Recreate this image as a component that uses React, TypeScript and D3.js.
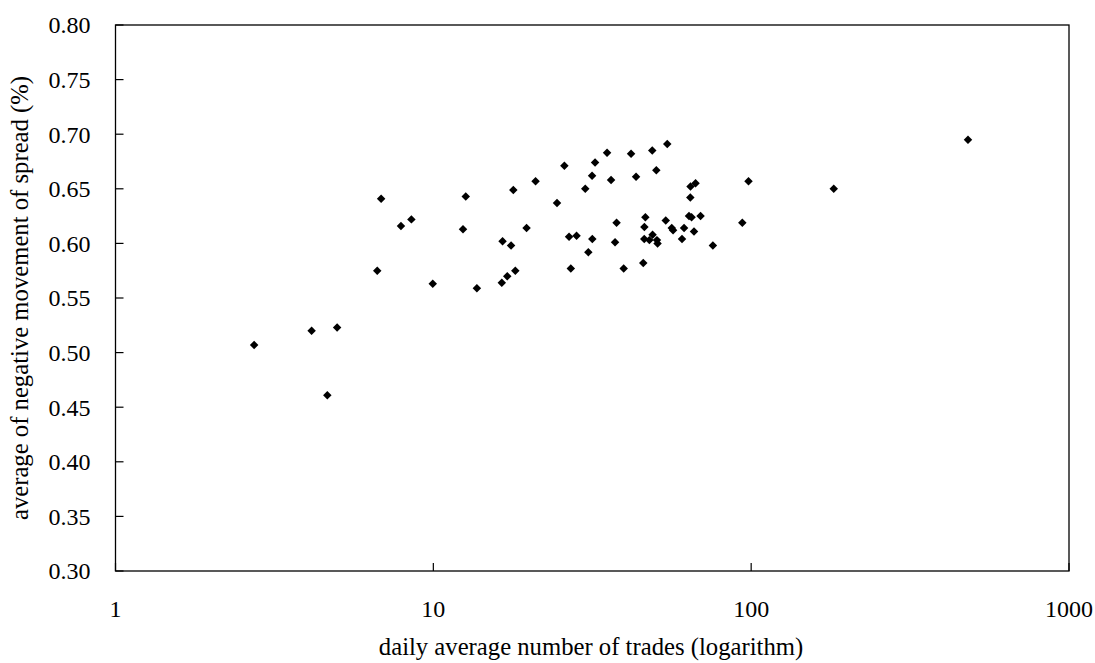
import React from "react";
import * as d3 from "d3";

const tradesX: number[] = [
  2.73, 4.14, 4.98, 4.64, 6.66, 6.85, 7.91, 8.53, 9.96, 12.4,
  12.65, 13.71, 16.42, 17.08, 18.11, 16.51, 17.56, 17.85, 19.65, 20.97,
  24.5, 25.84, 26.73, 28.22, 27.08, 30.06, 30.74, 31.64, 31.58, 32.28,
  35.2, 36.24, 37.3, 37.71, 39.72, 41.89, 43.43, 45.76, 46.1, 46.13,
  46.46, 47.83, 48.96, 48.85, 50.31, 50.53, 50.75, 53.86, 54.45, 56.26,
  56.79, 60.6, 61.5, 63.75, 64.93, 66.1, 69.3, 64.35, 64.45, 66.83,
  75.79, 93.8, 98.1, 181.9, 481,
];

const spreadY: number[] = [
  0.507, 0.52, 0.523, 0.461, 0.575, 0.641, 0.616, 0.622, 0.563, 0.613,
  0.643, 0.559, 0.564, 0.57, 0.575, 0.602, 0.598, 0.649, 0.614, 0.657,
  0.637, 0.671, 0.606, 0.607, 0.577, 0.65, 0.592, 0.604, 0.662, 0.674,
  0.683, 0.658, 0.601, 0.619, 0.577, 0.682, 0.661, 0.582, 0.604, 0.615,
  0.624, 0.603, 0.608, 0.685, 0.667, 0.603, 0.6, 0.621, 0.691, 0.614,
  0.612, 0.604, 0.614, 0.625, 0.624, 0.611, 0.625, 0.642, 0.652, 0.655,
  0.598, 0.619, 0.657, 0.65, 0.695,
];

const xTicks: number[] = [1, 10, 100, 1000];
const yTicks: number[] = [0.3, 0.35, 0.4, 0.45, 0.5, 0.55, 0.6, 0.65, 0.7, 0.75, 0.8];

const xTitle = "daily average number of trades (logarithm)";
const yTitle = "average of negative movement of spread (%)";

export default function App() {
  const W = 1095;
  const H = 663;
  const left = 115.5;
  const right = 1069;
  const top = 25;
  const bottom = 571;
  const x = d3.scaleLog().domain([1, 1000]).range([left, right]);
  const y = d3.scaleLinear().domain([0.3, 0.8]).range([bottom, top]);
  const font = "'Liberation Serif', 'Times New Roman', serif";
  const fsTick = 24;
  const fsTitle = 24.7;
  const diamond = d3.symbol().type(d3.symbolDiamond2).size(46)() as string;
  return (
    <div style={{ position: "absolute", left: 0, top: 0 }}>
      <svg width={W} height={H} style={{ display: "block", background: "#fff" }}>
        <rect x={left} y={top} width={right - left} height={bottom - top} fill="none" stroke="#000" strokeWidth={1.3} />
        {yTicks.map((t) => (
          <g key={"y" + t}>
            <line x1={left} x2={left + 8} y1={y(t)} y2={y(t)} stroke="#000" strokeWidth={1.2} />
            <text x={90.5} y={y(t)} dy="0.35em" textAnchor="end" fontFamily={font} fontSize={fsTick} fill="#000">
              {d3.format(".2f")(t)}
            </text>
          </g>
        ))}
        {xTicks.map((t) => (
          <g key={"x" + t}>
            <line x1={x(t)} x2={x(t)} y1={bottom} y2={bottom - 8} stroke="#000" strokeWidth={1.2} />
            <text x={x(t)} y={616.5} textAnchor="middle" fontFamily={font} fontSize={fsTick} fill="#000">
              {String(t)}
            </text>
          </g>
        ))}
        <text x={591} y={655} textAnchor="middle" fontFamily={font} fontSize={fsTitle} fill="#000">
          {xTitle}
        </text>
        <text
          transform={`translate(28,${(top + bottom) / 2}) rotate(-90)`}
          textAnchor="middle"
          fontFamily={font}
          fontSize={fsTitle}
          fill="#000"
        >
          {yTitle}
        </text>
        {tradesX.map((v, i) => (
          <path key={i} d={diamond} transform={`translate(${x(v)},${y(spreadY[i])})`} fill="#000" />
        ))}
      </svg>
    </div>
  );
}
